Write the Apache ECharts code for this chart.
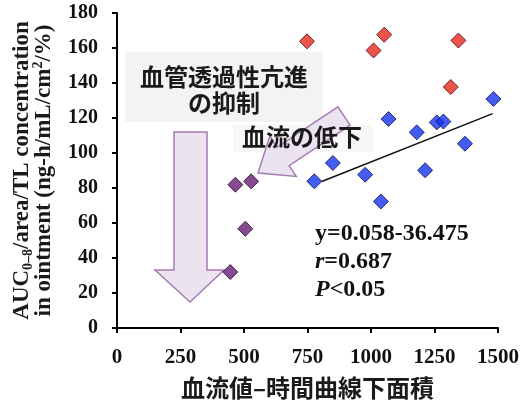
<!DOCTYPE html>
<html>
<head>
<meta charset="utf-8">
<script src="https://cdn.jsdelivr.net/npm/echarts@6/dist/echarts.min.js"></script>
<style>
  html, body { margin: 0; padding: 0; background: #fff; }
  #main { width: 521px; height: 401px; }
</style>
</head>
<body>
<div id="main"></div>
<script>
// data
const xTicks = [0, 250, 500, 750, 1000, 1250, 1500];
const yTicks = [0, 20, 40, 60, 80, 100, 120, 140, 160, 180];

const redX = [748, 1010, 1052, 1344, 1314];
const redY = [163.8, 158.6, 167.6, 164.3, 137.7];

const blueX = [1482, 1069, 1259, 1285, 1180, 1370, 850, 977, 1213, 777, 1039];
const blueY = [130.9, 119.4, 117.5, 118, 111.8, 105.3, 94.3, 87.6, 90.1, 83.8, 72.3];

const purpleX = [466, 528, 505, 446];
const purpleY = [81.9, 83.8, 56.7, 32];

const trendX = [806, 1479];
const trendY = [83.7, 122.5];

const zip = (xs, ys) => xs.map((x, i) => [x, ys[i]]);

const serif = '"Liberation Serif", "DejaVu Serif", serif';
const jp = '"Noto Sans CJK JP", "Noto Sans", sans-serif';

// block arrow polygon, tip + tail centre
function arrowPoints(tail, tip, headLen, headHalf, shaftHalf) {
    const dx = tip[0] - tail[0], dy = tip[1] - tail[1];
    const len = Math.sqrt(dx * dx + dy * dy);
    const ux = dx / len, uy = dy / len;
    const nx = -uy, ny = ux;
    const bx = tip[0] - ux * headLen, by = tip[1] - uy * headLen;
    return [
        [tail[0] + nx * shaftHalf, tail[1] + ny * shaftHalf],
        [bx + nx * shaftHalf, by + ny * shaftHalf],
        [bx + nx * headHalf, by + ny * headHalf],
        tip,
        [bx - nx * headHalf, by - ny * headHalf],
        [bx - nx * shaftHalf, by - ny * shaftHalf],
        [tail[0] - nx * shaftHalf, tail[1] - ny * shaftHalf]
    ];
}

const arrowStyle = { fill: '#ece3f1', stroke: '#a57bb3', lineWidth: 1.5 };

const chart = echarts.init(document.getElementById('main'), null, { renderer: 'canvas' });

const axisLabel = {
    color: '#111',
    fontFamily: serif,
    fontWeight: 'bold',
    formatter: v => String(v)
};

const option = {
    animation: false,
    backgroundColor: '#fff',
    grid: { left: 117, right: 23, top: 13, bottom: 73, outerBoundsMode: 'none', containLabel: false },
    xAxis: {
        type: 'value',
        min: xTicks[0],
        max: xTicks[xTicks.length - 1],
        interval: 250,
        splitLine: { show: false },
        axisLine: { lineStyle: { color: '#000', width: 2 } },
        axisTick: { length: 5, lineStyle: { color: '#000', width: 2 } },
        axisLabel: Object.assign({ fontSize: 21, margin: 19 }, axisLabel),
        name: '血流値–時間曲線下面積',
        nameLocation: 'middle',
        nameGap: 48,
        nameTextStyle: { fontFamily: jp, fontWeight: 'bold', fontSize: 24, color: '#1a1a1a' }
    },
    yAxis: {
        type: 'value',
        min: yTicks[0],
        max: yTicks[yTicks.length - 1],
        interval: 20,
        splitLine: { show: false },
        axisLine: { lineStyle: { color: '#000', width: 2 } },
        axisTick: { length: 5, lineStyle: { color: '#000', width: 2 } },
        axisLabel: Object.assign({ fontSize: 20, margin: 19 }, axisLabel),
        name: '{m|AUC}{sub|0–8}{m|/area/TL concentration}\n{m|in ointment (ng-h/mL/cm}{sup|2}{m|/%)}',
        nameLocation: 'middle',
        nameRotate: 90,
        nameGap: 60,
        nameTextStyle: {
            color: '#1a1a1a',
            rich: {
                m: { fontFamily: serif, fontWeight: 'bold', fontSize: 23, lineHeight: 22, color: '#1a1a1a' },
                sub: { fontFamily: serif, fontWeight: 'bold', fontSize: 14, lineHeight: 14, padding: [12, 0, 0, 0], color: '#1a1a1a' },
                sup: { fontFamily: serif, fontWeight: 'bold', fontSize: 14, lineHeight: 14, padding: [0, 0, 12, 0], color: '#1a1a1a' }
            }
        }
    },
    graphic: [
        // soft grey boxes behind the japanese notes
        { type: 'rect', z: 0, shape: { x: 125, y: 52, width: 198, height: 70 }, style: { fill: '#f3f3f3' } },
        { type: 'rect', z: 0, shape: { x: 233, y: 125, width: 140, height: 27 }, style: { fill: '#f7f7f7' } },
        // down arrow
        {
            type: 'polygon', z: 1,
            shape: { points: [[174, 132], [207, 132], [207, 270], [224, 270], [190, 302], [155, 270], [174, 270]] },
            style: arrowStyle
        },
        // diagonal arrow
        {
            type: 'polygon', z: 1,
            shape: { points: arrowPoints([344, 116], [258, 173], 30, 24, 11) },
            style: arrowStyle
        },
        {
            type: 'text', z: 3, x: 224, y: 90,
            style: {
                text: '血管透過性亢進\nの抑制',
                fontFamily: jp, fontWeight: 'bold', fontSize: 24, lineHeight: 26,
                fill: '#1a1a1a', align: 'center', verticalAlign: 'middle'
            }
        },
        {
            type: 'text', z: 3, x: 302, y: 137,
            style: {
                text: '血流の低下',
                fontFamily: jp, fontWeight: 'bold', fontSize: 24,
                fill: '#1a1a1a', align: 'center', verticalAlign: 'middle'
            }
        },
        {
            type: 'text', z: 3, x: 315, y: 220,
            style: {
                text: '{n|y=0.058-36.475}\n{i|r}{n|=0.687}\n{i|P}{n|<0.05}',
                rich: {
                    n: { fontFamily: serif, fontWeight: 'bold', fontSize: 24, lineHeight: 28, fill: '#111' },
                    i: { fontFamily: serif, fontWeight: 'bold', fontStyle: 'italic', fontSize: 24, lineHeight: 28, fill: '#111' }
                }
            }
        }
    ],
    series: [
        {
            type: 'line',
            data: zip(trendX, trendY),
            showSymbol: false,
            symbol: 'none',
            lineStyle: { color: '#111', width: 1.5 },
            z: 3
        },
        {
            type: 'scatter',
            data: zip(redX, redY),
            symbol: 'diamond',
            symbolSize: 15,
            itemStyle: { color: '#e8291c', borderColor: '#4a0808', borderWidth: 1 },
            z: 4
        },
        {
            type: 'scatter',
            data: zip(blueX, blueY),
            symbol: 'diamond',
            symbolSize: 15,
            itemStyle: { color: '#1733ee', borderColor: '#0b1250', borderWidth: 1 },
            z: 4
        },
        {
            type: 'scatter',
            data: zip(purpleX, purpleY),
            symbol: 'diamond',
            symbolSize: 15,
            itemStyle: { color: '#6a1c78', borderColor: '#2a0630', borderWidth: 1 },
            z: 4
        }
    ]
};

chart.setOption(option);
</script>
</body>
</html>
